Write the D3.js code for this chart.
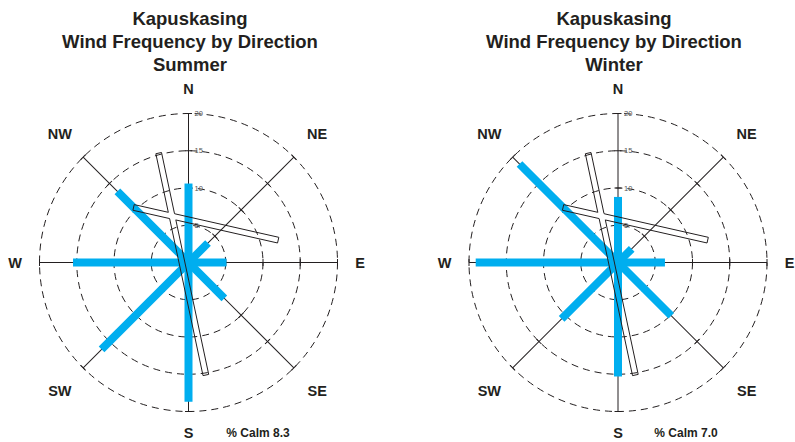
<!DOCTYPE html>
<html>
<head>
<meta charset="utf-8">
<script src="https://cdn.jsdelivr.net/npm/d3@7"></script>
<style>
  html, body { margin: 0; padding: 0; background: #fff; }
  svg { display: block; }
  text { font-family: Arial, "Liberation Sans", sans-serif; }
</style>
</head>
<body>
<svg id="chart" width="795" height="442"></svg>
<script>
// Wind rose data: frequency (%) of wind by direction, per season
const station = "Kapuskasing";
const subtitle = "Wind Frequency by Direction";
const seasons = ["Summer", "Winter"];
const directions = ["N", "NE", "E", "SE", "S", "SW", "W", "NW"];
const summerFreq = [10.6, 3.7, 5.1, 6.8, 18.7, 16.5, 15.5, 13.5];
const winterFreq = [8.8, 2.6, 6.3, 10.1, 15.3, 10.7, 19.1, 18.7];
const calmPct = [8.3, 7.0];
const ringTicks = [5, 10, 15, 20];

// Outlined cross drawn over each rose (hub bearing/distance, arm bearings and lengths, in %)
const crossHub = { bearing: -19.5, dist: 6.6 };
const crossArmBearing = [-12, 102.75];
const crossArmBack = [21.8, 5.3];
const crossArmFront = [8.65, 14.6];

const svg = d3.select("#chart");
const defs = svg.append("defs");

const r = d3.scaleLinear().domain([0, 20]).range([0, 149]);
const angle = d3.scalePoint().domain(directions).range([0, 315]);

const centers = [[188.5, 262.5], [618, 262.5]];
const titleX = [190, 614];
const calmX = [258, 686];
const series = [summerFreq, winterFreq];
const labelDist = { N: 174, S: 170, E: 171.5, W: 173.5 };

function pt(bearingDeg, dist) {
  const a = bearingDeg * Math.PI / 180;
  return [Math.sin(a) * dist, -Math.cos(a) * dist];
}

series.forEach((vals, si) => {
  const [cx, cy] = centers[si];

  // Titles
  const title = svg.append("text")
    .attr("x", titleX[si]).attr("text-anchor", "middle")
    .attr("font-weight", "bold").attr("font-size", 18.5).attr("fill", "#231f20");
  [station, subtitle, seasons[si]].forEach((t, i) => {
    title.append("tspan").attr("x", titleX[si]).attr("y", 25 + i * 22.8).text(t);
  });

  const g = svg.append("g").attr("transform", `translate(${cx},${cy})`);

  // Dashed rings
  g.selectAll("circle.ring").data(ringTicks).join("circle")
    .attr("class", "ring")
    .attr("r", d => r(d))
    .attr("fill", "none").attr("stroke", "#231f20")
    .attr("stroke-width", 1).attr("stroke-dasharray", "7,5");

  // Direction spokes with tick marks
  directions.forEach(dir => {
    const b = angle(dir);
    const spoke = g.append("g").attr("transform", `rotate(${b})`);
    spoke.append("line")
      .attr("x1", 0).attr("y1", 0).attr("x2", 0).attr("y2", -r(20))
      .attr("stroke", "#231f20").attr("stroke-width", 1);
    spoke.selectAll("line.tick").data(ringTicks).join("line")
      .attr("class", "tick")
      .attr("x1", -3.5).attr("x2", 3.5)
      .attr("y1", d => -r(d)).attr("y2", d => -r(d))
      .attr("stroke", "#231f20").attr("stroke-width", 1);
  });

  // Ring labels on the north spoke
  g.selectAll("text.rlab").data(ringTicks).join("text")
    .attr("class", "rlab")
    .attr("x", 6).attr("y", d => -r(d))
    .attr("dy", "0.35em")
    .attr("font-size", 7.5).attr("fill", "#555")
    .text(d => d);

  // Frequency bars
  g.selectAll("line.bar").data(vals).join("line")
    .attr("class", "bar")
    .attr("x1", 0).attr("y1", 0)
    .attr("x2", (d, i) => pt(angle(directions[i]), r(d))[0])
    .attr("y2", (d, i) => pt(angle(directions[i]), r(d))[1])
    .attr("stroke", "#00aeef").attr("stroke-width", 8)
    .attr("stroke-linecap", "butt");

  // Outlined cross
  const hub = pt(crossHub.bearing, r(crossHub.dist));
  const halfW = 2.9;
  const rects = crossArmBearing.map((b, k) => {
    const f = pt(b, r(crossArmFront[k]));
    const bk = pt(b + 180, r(crossArmBack[k]));
    const n = pt(b + 90, halfW);
    const p0 = [hub[0] + f[0], hub[1] + f[1]];
    const p1 = [hub[0] + bk[0], hub[1] + bk[1]];
    return [
      [p0[0] + n[0], p0[1] + n[1]],
      [p1[0] + n[0], p1[1] + n[1]],
      [p1[0] - n[0], p1[1] - n[1]],
      [p0[0] - n[0], p0[1] - n[1]]
    ];
  });
  const line = d3.line();
  rects.forEach((poly, k) => {
    const other = rects[1 - k];
    const mid = `crossmask-${si}-${k}`;
    const m = defs.append("mask").attr("id", mid)
      .attr("maskUnits", "userSpaceOnUse")
      .attr("x", -400).attr("y", -400).attr("width", 800).attr("height", 800);
    m.append("rect").attr("x", -400).attr("y", -400).attr("width", 800).attr("height", 800).attr("fill", "#fff");
    m.append("path").attr("d", line(other) + "Z").attr("fill", "#000");
    g.append("path")
      .attr("d", line(poly) + "Z")
      .attr("fill", "none").attr("stroke", "#231f20").attr("stroke-width", 1)
      .attr("mask", `url(#${mid})`);
  });

  // Compass labels
  g.selectAll("text.dir").data(directions).join("text")
    .attr("class", "dir")
    .attr("x", d => pt(angle(d), labelDist[d] || 182)[0])
    .attr("y", d => pt(angle(d), labelDist[d] || 182)[1])
    .attr("dy", "0.36em")
    .attr("text-anchor", "middle")
    .attr("font-weight", "bold").attr("font-size", 14.5).attr("fill", "#231f20")
    .text(d => d);

  // Calm percentage
  svg.append("text")
    .attr("x", calmX[si]).attr("y", 437)
    .attr("text-anchor", "middle")
    .attr("font-weight", "bold").attr("font-size", 12).attr("fill", "#231f20")
    .text(`% Calm ${calmPct[si].toFixed(1)}`);
});
</script>
</body>
</html>
